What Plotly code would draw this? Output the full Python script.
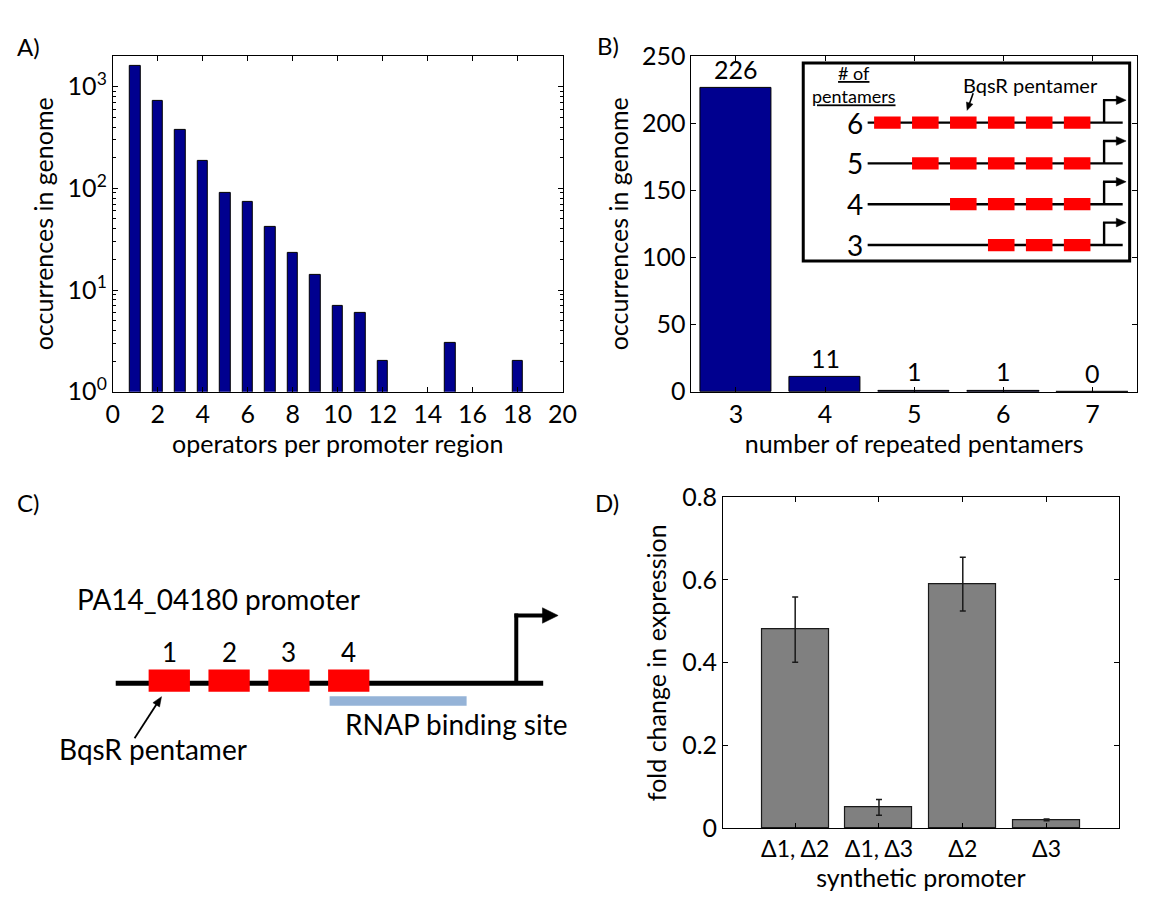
import plotly.graph_objects as go

# Page is rendered with the browser's default 8px body margin: compensate.
OFF = 8
W, H = 1152 - OFF, 903 - OFF
FONT = "Lato, 'Open Sans', sans-serif"
FS = 25

# ---------------- Panel A: operators per promoter region (log scale) -------------
a_operators = [1, 2, 3, 4, 5, 6, 7, 8, 9, 10, 11, 12, 15, 18]
a_counts = [1580, 730, 374, 185, 91, 74, 42, 23, 14, 7, 6, 2, 3, 2]
a_xticks = [0, 2, 4, 6, 8, 10, 12, 14, 16, 18, 20]
a_yticks = [1, 10, 100, 1000]
a_yticktext = ["10<sup>0</sup>", "10<sup>1</sup>", "10<sup>2</sup>", "10<sup>3</sup>"]
a_yminor = [m * 10 ** e for e in range(0, 4) for m in range(2, 10) if m * 10 ** e <= 2000]

# ---------------- Panel B: repeated pentamers -------------
b_pentamers = [3, 4, 5, 6, 7]
b_counts = [226, 11, 1, 1, 0]
b_yticks = [0, 50, 100, 150, 200, 250]

# inset: number of pentamers per schematic row
inset_rows = [6, 5, 4, 3]
inset_max = 6

# ---------------- Panel C: PA14_04180 promoter schematic -------------
c_operators = [1, 2, 3, 4]

# ---------------- Panel D: synthetic promoters -------------
d_labels = ["Δ1, Δ2", "Δ1, Δ3", "Δ2", "Δ3"]
d_fold = [0.48, 0.05, 0.59, 0.02]
d_err = [0.079, 0.019, 0.065, 0.002]
d_yticks = [0, 0.2, 0.4, 0.6, 0.8]
d_yticktext = ["0", "0.2", "0.4", "0.6", "0.8"]


def dx(p0, p1):
    return [max((p0 - OFF) / W, 0.0), min((p1 - OFF) / W, 1.0)]


def dy(top, bottom):
    return [max(1 - (bottom - OFF) / H, 0.0), min(1 - (top - OFF) / H, 1.0)]


def px_x(p):
    return (p - OFF) / W


def px_y(p):
    return 1 - (p - OFF) / H


axis_style = dict(
    showline=True, linecolor="black", linewidth=1, mirror="ticks",
    ticks="inside", ticklen=5, tickcolor="black", tickwidth=1,
    showgrid=False, zeroline=False,
    tickfont=dict(family=FONT, size=FS, color="black"),
)
title_font = dict(family=FONT, size=FS, color="black")
hidden = dict(visible=False, showgrid=False, zeroline=False, fixedrange=True)

fig = go.Figure()

fig.add_trace(go.Bar(
    x=a_operators, y=a_counts, width=0.46, xaxis="x", yaxis="y",
    marker=dict(color="#00008F", line=dict(color="black", width=1)),
    showlegend=False,
))
fig.add_trace(go.Bar(
    x=b_pentamers, y=b_counts, width=0.8, xaxis="x2", yaxis="y2",
    marker=dict(color="#00008F", line=dict(color="black", width=1)),
    showlegend=False,
))
fig.add_trace(go.Bar(
    x=list(range(1, len(d_fold) + 1)), y=d_fold, width=0.8, xaxis="x3", yaxis="y3",
    marker=dict(color="#808080", line=dict(color="#1a1a1a", width=1.2)),
    error_y=dict(type="data", array=d_err, color="#1a1a1a", thickness=1.5, width=3),
    showlegend=False,
))

annotations = []
shapes = []


def arrow(xr, yr, sx, sy, x0, y0, x1, y1, width, head_len, head_w):
    """Line from (x0,y0) to (x1,y1) with a filled head at (x1,y1); sx, sy = px per unit."""
    ddx, ddy = (x1 - x0) * sx, (y1 - y0) * sy
    length = (ddx ** 2 + ddy ** 2) ** 0.5
    ux, uy = ddx / length, ddy / length
    bx, by = x1 - ux * head_len / sx, y1 - uy * head_len / sy
    nx, ny = -uy, ux
    p1 = (bx + nx * head_w / 2 / sx, by + ny * head_w / 2 / sy)
    p2 = (bx - nx * head_w / 2 / sx, by - ny * head_w / 2 / sy)
    shapes.append(dict(type="line", xref=xr, yref=yr, x0=x0, y0=y0,
                       x1=x1 - ux * head_len * 0.6 / sx, y1=y1 - uy * head_len * 0.6 / sy,
                       line=dict(color="black", width=width)))
    shapes.append(dict(type="path", xref=xr, yref=yr,
                       path=f"M {x1} {y1} L {p1[0]} {p1[1]} L {p2[0]} {p2[1]} Z",
                       fillcolor="black", line=dict(color="black", width=0.5)))


# panel letters
for txt, (px, py) in zip(["A)", "B)", "C)", "D)"], [(22, 31), (613, 30), (21, 503), (612, 503)]):
    annotations.append(dict(text=txt, x=px_x(px), y=px_y(py), xref="paper", yref="paper",
                            showarrow=False, xanchor="center", yanchor="middle",
                            font=dict(family=FONT, size=24, color="black")))

# B value labels
for p, c in zip(b_pentamers, b_counts):
    annotations.append(dict(text=str(c), x=p, y=c, xref="x2", yref="y2", showarrow=False,
                            xanchor="center", yanchor="bottom", yshift=2,
                            font=dict(family=FONT, size=FS, color="black")))

# ---------- Inset (axes x5/y5): x unit = pentamer slot, y unit = row count
IN_SX, IN_SY = 38.7, 42.2
inset_line_x0, inset_line_x1 = 0.48, 7.2
tss_x, tss_x_end, tss_h = 6.71, 7.29, 0.55
for n in inset_rows:
    shapes.append(dict(type="line", xref="x5", yref="y5", x0=inset_line_x0, x1=inset_line_x1,
                       y0=n, y1=n, line=dict(color="black", width=2.4)))
    for j in range(inset_max - n + 1, inset_max + 1):
        shapes.append(dict(type="rect", xref="x5", yref="y5", x0=j - 0.35, x1=j + 0.35,
                           y0=n - 0.15, y1=n + 0.15, fillcolor="#FF0000",
                           line=dict(color="#FF0000", width=0)))
    shapes.append(dict(type="line", xref="x5", yref="y5", x0=tss_x, x1=tss_x,
                       y0=n, y1=n + tss_h, line=dict(color="black", width=2.4)))
    arrow("x5", "y5", IN_SX, IN_SY, tss_x - 0.03, n + tss_h, tss_x_end, n + tss_h, 2.4, 10, 9)
    annotations.append(dict(text=str(n), x=inset_line_x0, y=n, xref="x5", yref="y5",
                            showarrow=False, xanchor="right", yanchor="middle", xshift=-3,
                            font=dict(family=FONT, size=28, color="black")))
shapes.append(dict(type="rect", xref="x5 domain", yref="y5 domain", x0=0, x1=1, y0=0, y1=1,
                   line=dict(color="black", width=3)))
annotations.append(dict(text="<u># of</u><br><u>pentamers</u>", x=0.11, y=6.93, xref="x5", yref="y5",
                        showarrow=False, align="center", xanchor="center", yanchor="middle",
                        font=dict(family=FONT, size=18, color="black")))
annotations.append(dict(text="BqsR pentamer", x=4.76, y=6.93, xref="x5", yref="y5", showarrow=False,
                        xanchor="center", yanchor="middle", font=dict(family=FONT, size=20, color="black")))
arrow("x5", "y5", IN_SX, IN_SY, 3.26, 6.72, 3.1, 6.3, 1.6, 8, 7)

# ---------- Panel C (axes x4/y4): x unit = operator spacing, y unit = pixels above the DNA line
C_SX, C_SY = 61.0, 1.0
C_X0PX, C_LINEPX = 104.3, 690
c_line_x0, c_line_x1 = 0.105, 7.25
c_tss_x, c_tss_end, c_tss_h = 6.80, 7.50, 70
shapes.append(dict(type="line", xref="x4", yref="y4", x0=c_line_x0, x1=c_line_x1, y0=0, y1=0,
                   line=dict(color="black", width=5)))
for i in c_operators:
    shapes.append(dict(type="rect", xref="x4", yref="y4", x0=i - 0.345, x1=i + 0.345,
                       y0=-9, y1=14, fillcolor="#FF0000", line=dict(color="#FF0000", width=0)))
    annotations.append(dict(text=str(i), x=i, y=32, xref="x4", yref="y4", showarrow=False,
                            xanchor="center", yanchor="middle",
                            font=dict(family=FONT, size=26, color="black")))
shapes.append(dict(type="rect", xref="x4", yref="y4", x0=3.68, x1=5.97, y0=-23.5, y1=-13.5,
                   fillcolor="#95B3D7", line=dict(color="#95B3D7", width=0)))
annotations.append(dict(text="RNAP binding site", x=5.79, y=-42, xref="x4", yref="y4",
                        showarrow=False, xanchor="center", yanchor="middle",
                        font=dict(family=FONT, size=28, color="black")))
shapes.append(dict(type="line", xref="x4", yref="y4", x0=c_tss_x, x1=c_tss_x, y0=0, y1=c_tss_h + 2,
                   line=dict(color="black", width=4)))
arrow("x4", "y4", C_SX, C_SY, c_tss_x - 0.03, c_tss_h, c_tss_end, c_tss_h, 4, 16, 16)
annotations.append(dict(text="PA14_04180 promoter", x=1.82, y=87, xref="x4", yref="y4",
                        showarrow=False, xanchor="center", yanchor="middle",
                        font=dict(family=FONT, size=28, color="black")))
annotations.append(dict(text="BqsR pentamer", x=0.72, y=-68, xref="x4", yref="y4",
                        showarrow=False, xanchor="center", yanchor="middle",
                        font=dict(family=FONT, size=28, color="black")))
arrow("x4", "y4", C_SX, C_SY, 0.42, -57, 0.87, -14, 1.8, 10, 8)

fig.update_layout(
    width=W, height=H,
    margin=dict(l=0, r=0, t=0, b=0),
    paper_bgcolor="white", plot_bgcolor="white",
    font=dict(family=FONT, size=FS, color="black"),
    bargap=0,
    showlegend=False,
    annotations=annotations,
    shapes=shapes,
    xaxis=dict(axis_style, domain=dx(107.7, 566.3), anchor="y", range=[0, 20],
               tickmode="array", tickvals=a_xticks,
               title=dict(text="operators per promoter region", font=title_font, standoff=4)),
    yaxis=dict(axis_style, domain=dy(41, 388.5), anchor="x", type="log", range=[0, 3.301],
               tickmode="array", tickvals=a_yticks, ticktext=a_yticktext,
               minor=dict(tickmode="array", tickvals=a_yminor, ticks="inside", ticklen=3,
                          tickcolor="black", showgrid=False),
               title=dict(text="occurrences in genome", font=title_font, standoff=6)),
    xaxis2=dict(axis_style, domain=dx(697.7, 1152), anchor="y2", range=[2.5, 7.5],
                tickmode="array", tickvals=b_pentamers,
                title=dict(text="number of repeated pentamers", font=title_font, standoff=4)),
    yaxis2=dict(axis_style, domain=dy(41, 388.5), anchor="x2", range=[0, 250],
                tickmode="array", tickvals=b_yticks,
                title=dict(text="occurrences in genome", font=title_font, standoff=6)),
    xaxis3=dict(axis_style, domain=dx(730, 1133.3), anchor="y3", range=[0.14, 4.86],
                tickmode="array", tickvals=list(range(1, len(d_labels) + 1)), ticktext=d_labels,
                tickfont=dict(family=FONT, size=23, color="black"),
                title=dict(text="synthetic promoter", font=title_font, standoff=3)),
    yaxis3=dict(axis_style, domain=dy(497.7, 840), anchor="x3", range=[0, 0.8],
                tickmode="array", tickvals=d_yticks, ticktext=d_yticktext,
                title=dict(text="fold change in expression", font=title_font, standoff=8)),
    xaxis4=dict(hidden, domain=dx(OFF, 600), anchor="y4",
                range=[(OFF - C_X0PX) / C_SX, (600 - C_X0PX) / C_SX]),
    yaxis4=dict(hidden, domain=dy(460, 903), anchor="x4",
                range=[C_LINEPX - 903, C_LINEPX - 460]),
    xaxis5=dict(hidden, domain=dx(811.7, 1144.5), anchor="y5", range=[-1.217, 7.383]),
    yaxis5=dict(hidden, domain=dy(48.3, 253.3), anchor="x5", range=[2.607, 7.462]),
)

fig.write_html("out.html")
